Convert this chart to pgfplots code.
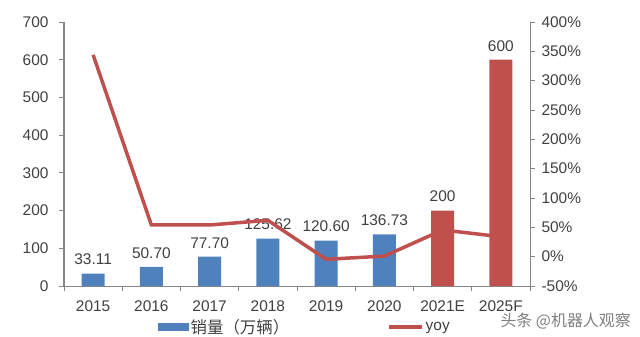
\documentclass[border=0pt]{standalone}
\usepackage{pgfplots}
\pgfplotsset{compat=1.18}
\usepackage{pgfplotstable}
\usepackage{fontspec}
\setmainfont{Liberation Sans}
\newfontfamily\cjk{Noto Sans CJK SC}
\definecolor{barblue}{HTML}{4F81BD}
\definecolor{barred}{HTML}{C0504D}
\definecolor{axgray}{HTML}{868686}
\definecolor{txt}{HTML}{404040}

\pgfplotstableread{
x y lab
0 33.11 33.11
1 50.70 50.70
2 77.70 77.70
3 125.62 125.62
4 120.60 120.60
5 136.73 136.73
}\histdata
\pgfplotstableread{
x y lab
6 200 200
7 600 600
}\fcdata
\pgfplotstableread{
x yoy
0 344
1 54
2 54
3 62
4 -4.5
5 1
6 45.5
7 34
}\yoydata

\begin{document}
\begin{tikzpicture}
\pgfplotsset{
  common/.style={
    scale only axis, width=466bp, height=264bp,
    xmin=-0.5, xmax=7.5,
    font=\fontsize{15.5}{18}\selectfont,
    /pgf/number format/assume math mode=true,
    tick label style={text=txt},
    axis line style={axgray, line width=1bp, -},
    tick style={axgray, line width=0.8bp},
    major tick length=5bp,
    tick align=outside,
  }
}
\begin{axis}[common, name=ax,
  axis x line*=bottom, axis y line*=left,
  ymin=0, ymax=700, ytick={0,100,...,700},
  xtick={-0.5,0.5,...,7.5}, x tick label as interval,
  xticklabels={2015,2016,2017,2018,2019,2020,2021E,2025F},
  xticklabel style={yshift=-6bp},
  yticklabel style={xshift=-7bp},
  nodes near coords, point meta=explicit symbolic,
  nodes near coords style={text=txt, font=\fontsize{15.5}{18}\selectfont, yshift=5bp},
]
\addplot[ybar, bar width=23bp, bar shift=0pt, fill=barblue, draw=none] table[x=x,y=y,meta=lab]{\histdata};
\addplot[ybar, bar width=23bp, bar shift=0pt, fill=barred, draw=none] table[x=x,y=y,meta=lab]{\fcdata};
\end{axis}
\begin{axis}[common,
  axis x line=none, axis y line*=right,
  ymin=-50, ymax=400, ytick={-50,0,...,400},
  yticklabel={\pgfmathprintnumber{\tick}\%},
  yticklabel style={xshift=3bp},
  legend style={draw=none, fill=none, at={(0.5,-0.155)}, anchor=center, xshift=8bp,
    font=\fontsize{15.5}{18}\selectfont, text=txt,
    /tikz/every even column/.append style={column sep=96bp}},
  legend columns=2,
]
\addlegendimage{legend image code/.code={\fill[barblue] (0bp,-3.5bp) rectangle (30bp,3.5bp);}}
\addlegendentry{{\cjk\fontsize{16.5}{18}\selectfont 销量（万辆）}}
\addplot[barred, line width=3.5bp, no markers, legend image code/.code={\draw[barred, line width=3.5bp] (0bp,0bp) -- (33bp,0bp);}] table[x=x,y=yoy]{\yoydata};
\addlegendentry{yoy}
\end{axis}
\node[anchor=west, text=gray, font=\cjk\fontsize{16}{18}\selectfont] at ([xshift=433bp,yshift=-35bp]ax.south west) {头条 @机器人观察};
\pgfresetboundingbox
\path[use as bounding box] ([xshift=-64bp,yshift=-50bp]ax.south west) rectangle ([xshift=110bp,yshift=22bp]ax.north east);
\end{tikzpicture}
\end{document}
